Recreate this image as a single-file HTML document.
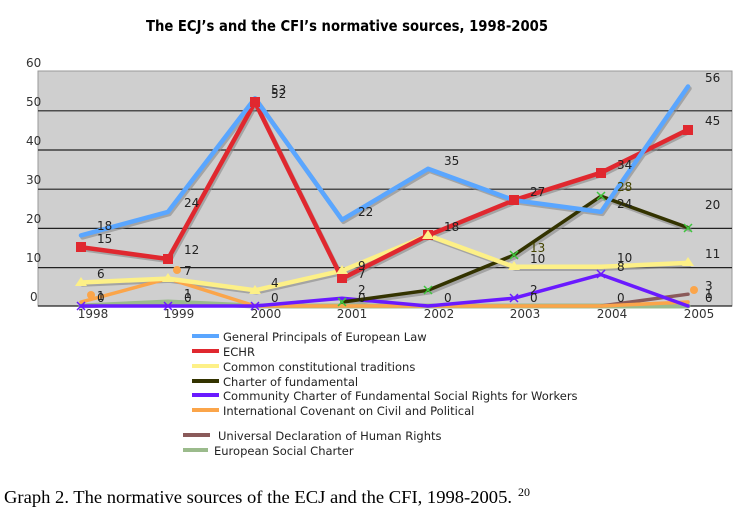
<!DOCTYPE html>
<html><head><meta charset="utf-8"><style>
html,body{margin:0;padding:0;background:#fff;}
svg{display:block;}
</style></head><body>
<svg width="735" height="512" viewBox="0 0 735 512" xmlns="http://www.w3.org/2000/svg" style="font-family:'DejaVu Sans','Liberation Sans',sans-serif">
<text x="146" y="31" font-size="15" font-weight="bold" style="font-family:'DejaVu Sans',sans-serif" textLength="402" lengthAdjust="spacingAndGlyphs">The ECJ’s and the CFI’s normative sources, 1998-2005</text>
<rect x="38" y="71" width="694" height="235" fill="#cfcfcf" stroke="#999" stroke-width="1"/>
<g stroke="#222" stroke-width="1.2">
<line x1="38" y1="110.8" x2="732" y2="110.8"/>
<line x1="38" y1="150" x2="732" y2="150"/>
<line x1="38" y1="189.2" x2="732" y2="189.2"/>
<line x1="38" y1="228.4" x2="732" y2="228.4"/>
<line x1="38" y1="267.6" x2="732" y2="267.6"/>
<line x1="38" y1="306" x2="732" y2="306"/>
</g>
<g font-size="12" fill="#333">
<text x="26" y="67">60</text><text x="26" y="106">50</text><text x="26" y="145">40</text><text x="26" y="184">30</text><text x="26" y="223">20</text><text x="26" y="262">10</text><text x="30" y="301">0</text>
</g>
<g font-size="12" fill="#333" text-anchor="middle">
<text x="93" y="318">1998</text><text x="179" y="318">1999</text><text x="266" y="318">2000</text><text x="352" y="318">2001</text><text x="439" y="318">2002</text><text x="525" y="318">2003</text><text x="612" y="318">2004</text><text x="699" y="318">2005</text>
</g>
<g fill="none" stroke-linejoin="round" stroke-linecap="round">
<g stroke="#888" stroke-width="4.5" opacity="0.6" transform="translate(1.5,2)">
<polyline points="81,235.4 168,211.9 255,98.2 342,219.8 428,168.8 514,200.2 601,211.9 688,86.5"/>
<polyline points="81,247.2 168,259 255,102.2 342,278.6 428,235.4 514,200.2 601,172.7 688,129.6"/>
<polyline points="81,282.5 168,278.6 255,290.3 342,270.7 428,235.4 514,266.8 601,266.8 688,262.9"/>
<polyline points="342,302.1 428,290.3 514,255 601,196.2 688,227.6"/>
</g>
<polyline stroke="#9bbb8c" stroke-width="5" points="81,306 168,302 255,306 342,306 428,306 514,306 601,306 688,306"/>
<polyline stroke="#8a5a5a" stroke-width="3.5" points="601,306 688,294.2"/>
<polyline stroke="#fba54a" stroke-width="3.5" points="81,302.1 168,278.6 255,306 342,306 428,306 514,306 601,306 688,302"/>
<polyline stroke="#6a1aff" stroke-width="3.5" points="81,306 168,306 255,306 342,298.2 428,306 514,298.2 601,274.6 688,306"/>
<polyline stroke="#333300" stroke-width="3.5" points="342,302.1 428,290.3 514,255 601,196.2 688,227.6"/>
<polyline stroke="#fdf087" stroke-width="4.5" points="81,282.5 168,278.6 255,290.3 342,270.7 428,235.4 514,266.8 601,266.8 688,262.9"/>
<polyline stroke="#e0282f" stroke-width="4.5" points="81,247.2 168,259 255,102.2 342,278.6 428,235.4 514,200.2 601,172.7 688,129.6"/>
<polyline stroke="#5aa6ff" stroke-width="4.5" points="81,235.4 168,211.9 255,98.2 342,219.8 428,168.8 514,200.2 601,211.9 688,86.5"/>
</g>
<g fill="#e0282f">
<rect x="76" y="242" width="10" height="10"/><rect x="163" y="254" width="10" height="10"/><rect x="250" y="97" width="10" height="10"/><rect x="337" y="273" width="10" height="10"/><rect x="423" y="230" width="10" height="10"/><rect x="509" y="195" width="10" height="10"/><rect x="596" y="168" width="10" height="10"/><rect x="683" y="125" width="10" height="10"/>
</g>
<g fill="#fdf087">
<polygon points="81,277 75,286 87,286"/><polygon points="168,273 162,282 174,282"/><polygon points="255,285 249,294 261,294"/><polygon points="342,265 336,274 348,274"/><polygon points="428,230 422,239 434,239"/><polygon points="514,261 508,270 520,270"/><polygon points="688,257 682,266 694,266"/>
</g>
<g stroke="#3ec63e" stroke-width="1.5">
<path d="M424,286 l8,8 M432,286 l-8,8 M510,251 l8,8 M518,251 l-8,8 M597,192 l8,8 M605,192 l-8,8 M684,224 l8,8 M692,224 l-8,8 M338,298 l8,8 M346,298 l-8,8"/>
</g>
<g stroke="#6a1aff" stroke-width="1.5">
<path d="M77,302 l8,8 M85,302 l-8,8 M164,302 l8,8 M172,302 l-8,8 M251,302 l8,8 M259,302 l-8,8 M510,294 l8,8 M518,294 l-8,8 M597,270 l8,8 M605,270 l-8,8"/>
</g>
<g fill="#fba54a"><circle cx="177" cy="270" r="4"/><circle cx="91" cy="295" r="4"/><circle cx="694" cy="290" r="4"/></g>
<g font-size="12" fill="#222">
<text x="97" y="230">18</text><text x="97" y="243">15</text><text x="184" y="207">24</text><text x="184" y="254">12</text>
<text x="271" y="94">53</text><text x="271" y="98">52</text><text x="358" y="216">22</text><text x="358" y="270">9</text><text x="358" y="278">7</text>
<text x="444" y="165">35</text><text x="444" y="231">18</text><text x="530" y="196">27</text><text x="617" y="169">34</text><text x="617" y="208">24</text>
<text x="705" y="82">56</text><text x="705" y="125">45</text><text x="705" y="209">20</text><text x="705" y="258">11</text>
<text x="97" y="278">6</text><text x="184" y="275">7</text><text x="271" y="287">4</text><text x="530" y="263">10</text><text x="617" y="262">10</text><text x="617" y="271">8</text>
<text x="530" y="252" fill="#444400">13</text><text x="617" y="191" fill="#444400">28</text>
<text x="97" y="300">1</text><text x="97" y="302">0</text><text x="184" y="298">1</text><text x="184" y="302">0</text><text x="271" y="302">0</text><text x="358" y="294">2</text><text x="358" y="302">0</text>
<text x="444" y="302">0</text><text x="530" y="294">2</text><text x="530" y="302">0</text><text x="617" y="302">0</text><text x="705" y="290">3</text><text x="705" y="298">1</text><text x="705" y="302">0</text>
</g>
<g stroke-width="4">
<line x1="192" y1="336" x2="219" y2="336" stroke="#5aa6ff"/>
<line x1="192" y1="351" x2="219" y2="351" stroke="#e0282f"/>
<line x1="192" y1="366" x2="219" y2="366" stroke="#fdf087"/>
<line x1="192" y1="381" x2="219" y2="381" stroke="#333300"/>
<line x1="192" y1="395" x2="219" y2="395" stroke="#6a1aff"/>
<line x1="192" y1="410" x2="219" y2="410" stroke="#fba54a"/>
<line x1="183" y1="435" x2="210" y2="435" stroke="#8a5a5a"/>
<line x1="183" y1="450" x2="208" y2="450" stroke="#9bbb8c"/>
</g>
<g font-size="11.5" fill="#222">
<text x="223" y="341">General Principals of European Law</text>
<text x="223" y="356">ECHR</text>
<text x="223" y="371">Common constitutional traditions</text>
<text x="223" y="386">Charter of fundamental</text>
<text x="223" y="400">Community Charter of Fundamental Social Rights for Workers</text>
<text x="223" y="415">International Covenant on Civil and Political</text>
<text x="218" y="440">Universal Declaration of Human Rights</text>
<text x="214" y="455">European Social Charter</text>
</g>
<text x="4" y="503" font-size="18" fill="#000" style="font-family:'Liberation Serif',serif" textLength="508" lengthAdjust="spacingAndGlyphs">Graph 2. The normative sources of the ECJ and the CFI, 1998-2005.</text>
<text x="518" y="496" font-size="12" fill="#000" style="font-family:'Liberation Serif',serif">20</text>
</svg>
</body></html>
